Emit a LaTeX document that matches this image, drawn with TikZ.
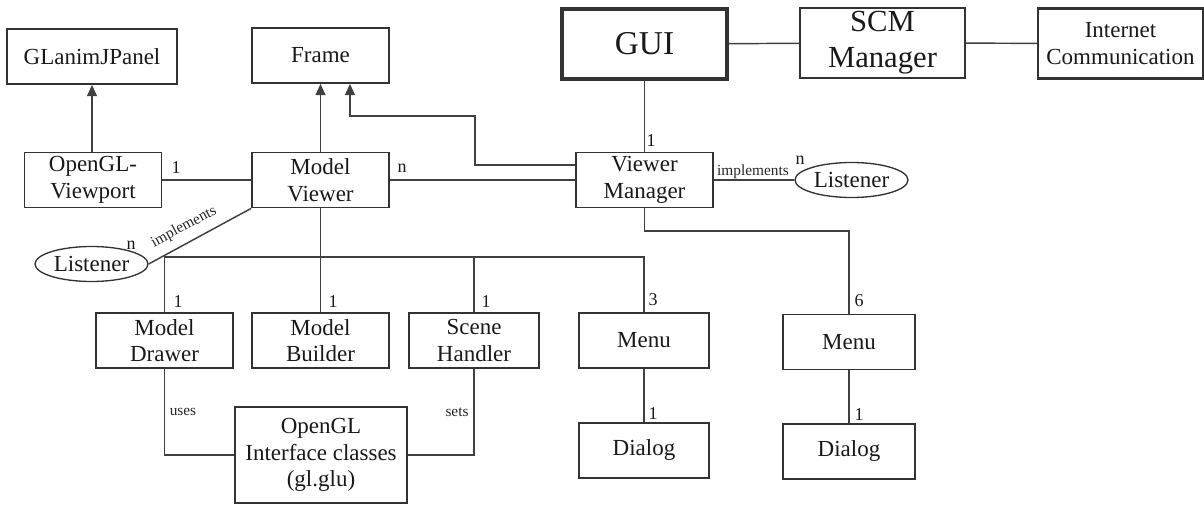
\documentclass[tikz,border=0pt]{standalone}
\usepackage{fontspec}
\setmainfont{LiberationSerif}[Extension=.ttf, UprightFont=*-Regular, BoldFont=*-Bold]
\usetikzlibrary{arrows.meta,positioning,shapes.geometric}

\begin{document}
\begin{tikzpicture}[
    x=0.75pt, y=-0.75pt,
    box/.style={rectangle, draw=black!80, line width=1.3pt, align=center, minimum width=102.75pt, minimum height=41.25pt, inner sep=0pt, text=black!90, font=\fontsize{17.25}{20}\selectfont},
    bigbox/.style={box, line width=1.8pt, minimum width=123.75pt, minimum height=52.5pt},
    iface/.style={ellipse, draw=black!80, line width=1pt, minimum width=84.75pt, minimum height=26.25pt, inner sep=0pt, text=black!90, font=\fontsize{17.25}{20}\selectfont},
    mult/.style={font=\fontsize{13.5}{15}\selectfont, inner sep=0pt, text=black!90},
    note/.style={font=\fontsize{11.5}{13}\selectfont, inner sep=0pt, text=black!85},
    link/.style={draw=black!75, line width=1.1pt},
    arrow/.style={link, -{Triangle[width=7.5pt,length=8.5pt]}}
]
\useasboundingbox (0,0) rectangle (1204,506);

% top row
\node[box, minimum width=127.5pt] (glpanel) at (92,56.5) {GLanimJPanel};
\node[box] (frame) at (320.5,55.5) {Frame};
\node[bigbox, line width=2.6pt, font=\fontsize{25}{28}\selectfont] (gui) at (644.5,44) {GUI};
\node[bigbox, font=\fontsize{23}{27}\selectfont] (scm) at (882.5,43) {SCM\\Manager};
\node[bigbox] (inet) at (1120.5,43.5) {Internet\\Communication};

% middle row
\node[box] (viewport) at (93,180) {OpenGL-\\Viewport};
\node[box] (mviewer) at (320.5,180) {Model\\Viewer};
\node[box] (vmanager) at (644.5,180) {Viewer\\Manager};
\node[iface] (lstR) at (851.5,180) {Listener};
\node[iface] (lstL) at (91.5,264) {Listener};

% lower row
\node[box] (mdrawer) at (164.5,340.5) {Model\\Drawer};
\node[box] (mbuilder) at (320.5,340.5) {Model\\Builder};
\node[box, minimum width=97.5pt] (shandler) at (474,340.5) {Scene\\Handler};
\node[box, minimum width=97.5pt] (menuA) at (644,340.5) {Menu};
\node[box, minimum width=97.5pt] (dialogA) at (644,450.5) {Dialog};
\node[box, minimum width=99pt] (menuB) at (849,342) {Menu};
\node[box, minimum width=99pt] (dialogB) at (849,451.5) {Dialog};
\node[box, minimum width=129pt, minimum height=72pt] (glif) at (321,455) {OpenGL\\Interface classes\\(gl.glu)};

\coordinate (bus) at (0,257);
\coordinate (mgrbus) at (0,231);
\coordinate (bend) at (475,116);

% connectors
\draw[arrow] (viewport.north -| glpanel) -- (glpanel);
\draw[arrow] (mviewer) -- (frame);
\draw[arrow] ([yshift=11.25pt]vmanager.west) -| (bend) -| ([xshift=22.1pt]frame.south);
\draw[link] (gui) -- (scm);
\draw[link] (scm) -- (inet);
\draw[link] (gui) -- (vmanager);
\draw[link] (viewport) -- (mviewer);
\draw[link] (mviewer) -- (vmanager);
\draw[link] (vmanager) -- (lstR);
\draw[link] (lstL.east) -- (mviewer.south west);
\draw[link] (mviewer) -- (mbuilder);
\draw[link] (mdrawer.north) -- (mdrawer.north |- bus) -| (menuA.north);
\draw[link] (shandler.north) -- (shandler.north |- bus);
\draw[link] (menuA) -- (dialogA);
\draw[link] (vmanager.south) -- (vmanager.south |- mgrbus) -| (menuB.north);
\draw[link] (menuB) -- (dialogB);
\draw[link] (mdrawer.south) |- (glif.west);
\draw[link] (shandler.south) |- (glif.east);

% labels
\node[mult] (m1) at (176,168) {1};
\node[mult] (m2) at (402,168) {n};
\node[mult] (m3) at (651,141) {1};
\node[note] (impR) at (753,172) {implements};
\node[mult] (m4) at (800,160) {n};
\node[mult] (m5) at (131,245) {n};
\node[note, rotate=28] (impL) at (184,227) {implements};
\node[mult] (m6) at (178,302) {1};
\node[mult] (m7) at (333,302) {1};
\node[mult] (m8) at (486,302) {1};
\node[mult] (m9) at (653,300) {3};
\node[mult] (m10) at (653,414) {1};
\node[mult] (m11) at (859,301) {6};
\node[mult] (m12) at (859,415) {1};
\node[note] (uses) at (183,412) {uses};
\node[note] (sets) at (457,412) {sets};
\end{tikzpicture}
\end{document}
